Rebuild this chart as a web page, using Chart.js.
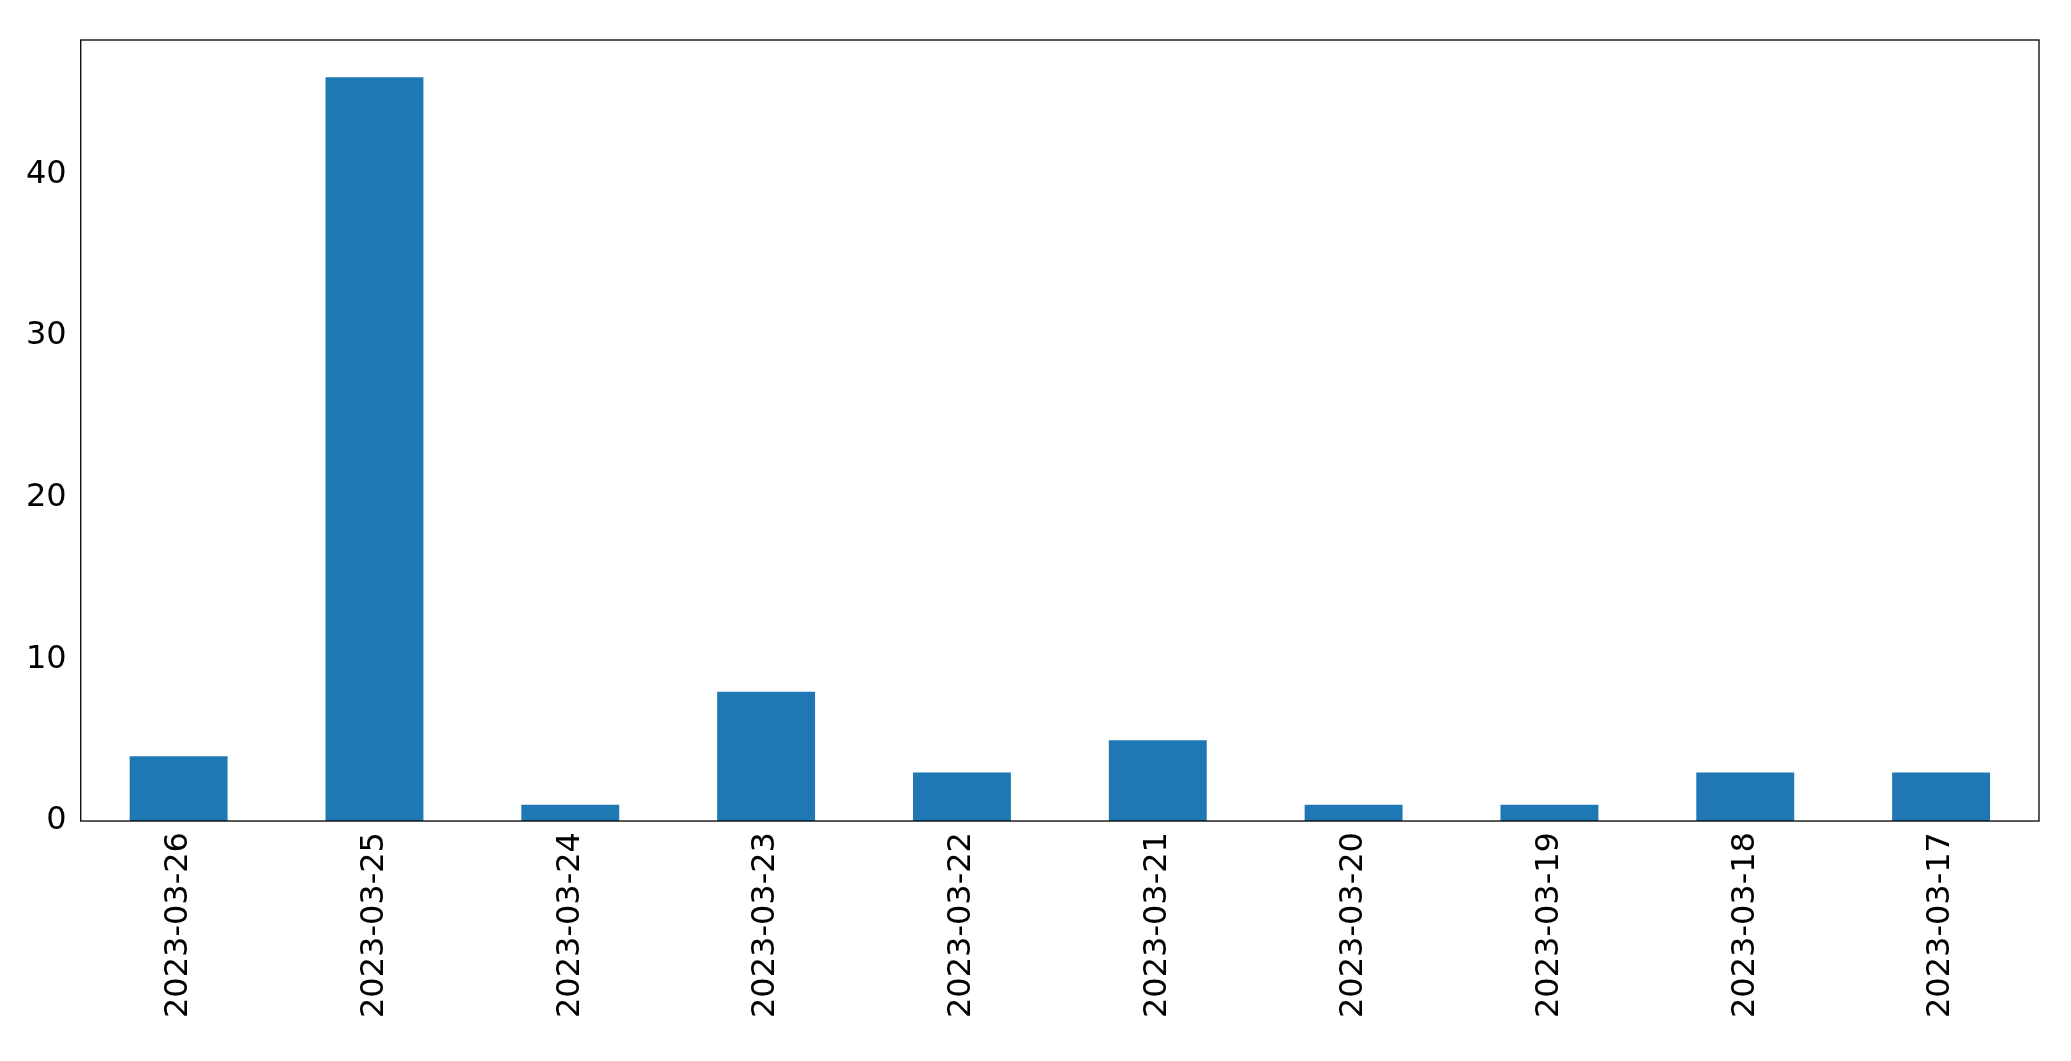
<!DOCTYPE html>
<html>
<head>
<meta charset="utf-8">
<script src="https://cdn.jsdelivr.net/npm/chart.js@4"></script>
<style>
  html, body { margin: 0; padding: 0; background: #fff; }
  #wrap { position: absolute; left: 0; top: 0; width: 2071px; height: 1061px; }
</style>
</head>
<body>
<div id="wrap"><canvas id="barChart"></canvas></div>
<script>
const dates = [
  "2023-03-26", "2023-03-25", "2023-03-24", "2023-03-23", "2023-03-22",
  "2023-03-21", "2023-03-20", "2023-03-19", "2023-03-18", "2023-03-17",
];
const counts = [4, 46, 1, 8, 3, 5, 1, 1, 3, 3];
const yTicks = [0, 10, 20, 30, 40];

// draws the black frame around the plot area like matplotlib
const frame = {
  id: "frame",
  afterDraw(chart) {
    const { ctx, chartArea: a } = chart;
    ctx.save();
    ctx.strokeStyle = "#000";
    ctx.lineWidth = 1.3;
    ctx.strokeRect(a.left, a.top, a.right - a.left, a.bottom - a.top);
    ctx.restore();
  },
};

new Chart(document.getElementById("barChart"), {
  type: "bar",
  data: {
    labels: dates,
    datasets: [
      {
        data: counts,
        backgroundColor: "#1f77b4",
        categoryPercentage: 1,
        barPercentage: 0.5,
      },
    ],
  },
  options: {
    responsive: true,
    maintainAspectRatio: false,
    animation: false,
    layout: { padding: { left: 20, right: 32, top: 40, bottom: 40 } },
    plugins: { legend: { display: false }, tooltip: { enabled: false } },
    scales: {
      x: {
        grid: { display: false, drawTicks: true },
        border: { display: false },
        ticks: {
          color: "#000",
          font: { family: "DejaVu Sans", size: 32 },
          maxRotation: 90,
          minRotation: 90,
        },
      },
      y: {
        min: 0,
        max: 48.3,
        afterBuildTicks: (axis) => {
          axis.ticks = yTicks.map((v) => ({ value: v }));
        },
        grid: { display: false, drawTicks: true, tickLength: 8, tickColor: "#000" },
        border: { display: false },
        ticks: {
          color: "#000",
          font: { family: "DejaVu Sans", size: 32 },
          padding: 6,
        },
      },
    },
  },
  plugins: [frame],
});
</script>
</body>
</html>
